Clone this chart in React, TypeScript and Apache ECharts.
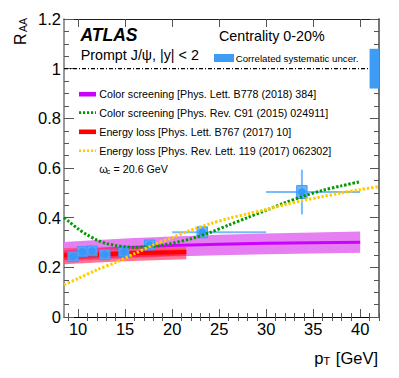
import React, { useEffect, useRef } from "react";
import * as echarts from "echarts";

const FONT = "'Liberation Sans', Arial, Helvetica, sans-serif";

const X_MIN = 8.5;
const X_MAX = 42;
const xMajorTicks = [10, 15, 20, 25, 30, 35, 40];
const xMinorTicks = [9, 11, 12, 13, 14, 16, 17, 18, 19, 21, 22, 23, 24, 26, 27, 28, 29, 31, 32, 33, 34, 36, 37, 38, 39, 41, 42];

// Data points (ATLAS, prompt J/psi, centrality 0-20%)
const dataX = [9.46, 10.45, 11.48, 12.85, 14.87, 17.6, 23.2, 33.8];
const dataY = [0.243, 0.263, 0.266, 0.251, 0.263, 0.29, 0.341, 0.503];
const binLow = [9.46, 10.45, 11.48, 12.85, 14.87, 17.6, 20, 30];
const binHigh = [9.46, 10.45, 11.48, 12.85, 14.87, 17.6, 30, 40];
const statErr = [0.01, 0.01, 0.01, 0.01, 0.01, 0.012, 0.02, 0.09];
const sysErr = [0.02, 0.02, 0.02, 0.02, 0.02, 0.02, 0.022, 0.026];

// Correlated systematic uncertainty box at unity
const corrX = [41, 42];
const corrY = [0.92, 1.08];

// Color screening [PLB 778 (2018) 384] band
const magX = [8.5, 12, 16, 20, 25, 30, 35, 40];
const magC = [0.262, 0.272, 0.28, 0.288, 0.293, 0.297, 0.299, 0.301];
const magUp = [0.302, 0.31, 0.318, 0.324, 0.331, 0.336, 0.34, 0.344];
const magLo = [0.222, 0.23, 0.238, 0.244, 0.249, 0.253, 0.256, 0.259];

// Energy loss [PLB 767 (2017) 10] band
const redX = [8.5, 12, 15, 18, 21.5];
const redC = [0.248, 0.252, 0.256, 0.259, 0.262];
const redUp = [0.278, 0.28, 0.281, 0.282, 0.283];
const redLo = [0.212, 0.219, 0.225, 0.229, 0.233];

// Color screening [PRC 91 (2015) 024911]
const greenX = [8.5, 9, 10, 11, 12, 13, 14, 15, 16, 17, 18, 19, 20, 22, 24, 26, 28, 30, 32, 34, 36, 38, 40];
const greenY = [0.4, 0.385, 0.355, 0.33, 0.31, 0.296, 0.288, 0.283, 0.281, 0.282, 0.285, 0.29, 0.297, 0.315, 0.34, 0.37, 0.4, 0.43, 0.46, 0.487, 0.51, 0.528, 0.545];

// Energy loss [PRL 119 (2017) 062302]
const yellowX = [8.5, 10, 12, 14, 16, 18, 20, 22, 24, 26, 28, 30, 32, 34, 36, 38, 40, 42];
const yellowY = [0.13, 0.155, 0.19, 0.22, 0.255, 0.29, 0.32, 0.35, 0.375, 0.397, 0.415, 0.433, 0.452, 0.47, 0.485, 0.5, 0.513, 0.525];

const unityX = [X_MIN, X_MAX];
const unityY = [1, 1];

const legendItems = [
  { kind: "box", color: "#cc00ff", label: "Color screening [Phys. Lett. B778 (2018) 384]" },
  { kind: "dot", color: "#009900", label: "Color screening [Phys. Rev. C91 (2015) 024911]" },
  { kind: "box", color: "#ff0000", label: "Energy loss [Phys. Lett. B767 (2017) 10]" },
  { kind: "dot", color: "#ffcc00", label: "Energy loss [Phys. Rev. Lett. 119 (2017) 062302]" },
];

const MAGENTA_BAND = "#e680f2";
const MAGENTA_LINE = "#cc00ff";
const BLUE = "#3399ff";
const BLUE_LIGHT = "#77bbff";
const TICK = "#555";

function bandSeries(xs: number[], up: number[], lo: number[], center: number[], fill: string, stroke: string, lw: number, inner?: { up: number[]; lo: number[]; fill: string }) {
  return {
    type: "custom",
    xAxisIndex: 0,
    yAxisIndex: 0,
    data: [[xs[0], center[0]]],
    renderItem: (_p: any, api: any) => {
      const top = xs.map((x, i) => api.coord([x, up[i]]));
      const bot = xs.map((x, i) => api.coord([x, lo[i]])).reverse();
      const mid = xs.map((x, i) => api.coord([x, center[i]]));
      const children: any[] = [
        { type: "polygon", shape: { points: top.concat(bot) }, style: { fill } },
      ];
      if (inner) {
        const t2 = xs.map((x, i) => api.coord([x, inner.up[i]]));
        const b2 = xs.map((x, i) => api.coord([x, inner.lo[i]])).reverse();
        children.push({ type: "polygon", shape: { points: t2.concat(b2) }, style: { fill: inner.fill } });
      }
      children.push({ type: "polyline", shape: { points: mid }, style: { stroke, lineWidth: lw, fill: "none" } });
      return { type: "group", children };
    },
  };
}

function buildOption() {
  const xBase = { type: "value", min: X_MIN, max: X_MAX, splitLine: { show: false } };
  const tickStyle = { color: TICK, width: 1 };
  const option: any = {
    animation: false,
    backgroundColor: "#fff",
    grid: { left: 64, top: 19, width: 315, height: 298 },
    xAxis: [
      {
        ...xBase,
        position: "bottom",
        axisLine: { show: true, onZero: false, lineStyle: { color: "#000", width: 1 } },
        axisTick: { show: true, inside: true, length: 8, customValues: xMajorTicks, lineStyle: tickStyle },
        axisLabel: { show: true, customValues: xMajorTicks, fontSize: 16.5, margin: 3, color: "#000", fontFamily: FONT },
      },
      {
        ...xBase,
        position: "bottom",
        axisLine: { show: false },
        axisTick: { show: true, inside: true, length: 4, customValues: xMinorTicks, lineStyle: tickStyle },
        axisLabel: { show: false },
      },
      {
        ...xBase,
        position: "top",
        axisLine: { show: true, onZero: false, lineStyle: { color: "#222", width: 1 } },
        axisTick: { show: true, inside: true, length: 8, customValues: xMajorTicks, lineStyle: tickStyle },
        axisLabel: { show: false },
      },
      {
        ...xBase,
        position: "top",
        axisLine: { show: false },
        axisTick: { show: true, inside: true, length: 4, customValues: xMinorTicks, lineStyle: tickStyle },
        axisLabel: { show: false },
      },
    ],
    yAxis: [
      {
        type: "value",
        min: 0,
        max: 1.2,
        interval: 0.2,
        position: "left",
        splitLine: { show: false },
        axisLine: { show: true, onZero: false, lineStyle: { color: "#777", width: 1.5 } },
        axisTick: { show: true, inside: true, length: 10, lineStyle: tickStyle },
        minorTick: { show: true, splitNumber: 4, length: 5, lineStyle: tickStyle },
        axisLabel: {
          fontSize: 16.5,
          margin: 3,
          color: "#000",
          fontFamily: FONT,
          formatter: (v: number) => String(+v.toFixed(1)),
        },
      },
      {
        type: "value",
        min: 0,
        max: 1.2,
        interval: 0.2,
        position: "right",
        splitLine: { show: false },
        axisLine: { show: true, onZero: false, lineStyle: { color: "#777", width: 2 } },
        axisTick: { show: true, inside: true, length: 9, lineStyle: tickStyle },
        minorTick: { show: true, splitNumber: 4, length: 5, lineStyle: tickStyle },
        axisLabel: { show: false },
      },
    ],
    series: [
      bandSeries(magX, magUp, magLo, magC, MAGENTA_BAND, MAGENTA_LINE, 3),
      bandSeries(redX, redUp, redLo, redC, "rgba(255,70,110,0.75)", "#ff0000", 4, {
        up: redUp.map((u, i) => redC[i] + (u - redC[i]) * 0.45),
        lo: redLo.map((l, i) => redC[i] - (redC[i] - l) * 0.5),
        fill: "rgba(255,30,60,0.8)",
      }),
      {
        type: "line",
        xAxisIndex: 0,
        yAxisIndex: 0,
        data: unityX.map((x, i) => [x, unityY[i]]),
        symbol: "none",
        lineStyle: { color: "#000", width: 1.2, type: [4, 2, 1, 2] },
        z: 3,
      },
      {
        type: "custom",
        xAxisIndex: 0,
        yAxisIndex: 0,
        z: 4,
        data: dataX.map((x, i) => [x, dataY[i]]),
        renderItem: (p: any, api: any) => {
          const i = p.dataIndex;
          const x = api.value(0);
          const y = api.value(1);
          const c = api.coord([x, y]);
          const hL = api.coord([binLow[i], y]);
          const hR = api.coord([binHigh[i], y]);
          const vT = api.coord([x, y + statErr[i]]);
          const vB = api.coord([x, y - statErr[i]]);
          const bTL = api.coord([x - 0.55, y + sysErr[i]]);
          const bBR = api.coord([x + 0.55, y - sysErr[i]]);
          return {
            type: "group",
            children: [
              { type: "line", shape: { x1: hL[0], y1: hL[1], x2: hR[0], y2: hR[1] }, style: { stroke: BLUE_LIGHT, lineWidth: 2 } },
              { type: "line", shape: { x1: vT[0], y1: vT[1], x2: vB[0], y2: vB[1] }, style: { stroke: BLUE_LIGHT, lineWidth: 2 } },
              {
                type: "rect",
                shape: { x: bTL[0], y: bTL[1], width: bBR[0] - bTL[0], height: bBR[1] - bTL[1] },
                style: { fill: "rgba(85,170,255,0.85)", stroke: BLUE, lineWidth: 1 },
              },
              { type: "circle", shape: { cx: c[0], cy: c[1], r: 3.8 }, style: { fill: BLUE } },
            ],
          };
        },
      },
      {
        type: "line",
        xAxisIndex: 0,
        yAxisIndex: 0,
        data: greenX.map((x, i) => [x, greenY[i]]),
        smooth: 0.3,
        symbol: "none",
        lineStyle: { color: "#009900", width: 3, type: [2.4, 1.8] },
        z: 5,
      },
      {
        type: "line",
        xAxisIndex: 0,
        yAxisIndex: 0,
        data: yellowX.map((x, i) => [x, yellowY[i]]),
        smooth: 0.3,
        symbol: "none",
        lineStyle: { color: "#ffcc00", width: 3, type: [2.4, 1.8] },
        z: 5,
      },
      {
        type: "custom",
        xAxisIndex: 0,
        yAxisIndex: 0,
        z: 6,
        data: [[corrX[0], corrY[0]]],
        renderItem: (_p: any, api: any) => {
          const a = api.coord([corrX[0], corrY[1]]);
          const b = api.coord([corrX[1], corrY[0]]);
          return {
            type: "rect",
            shape: { x: a[0], y: a[1], width: b[0] - a[0], height: b[1] - a[1] },
            style: { fill: "#3d9df5" },
          };
        },
      },
    ],
  };

  const g: any[] = [];
  const txt = (x: number, y: number, text: string, size: number, extra: any = {}) => ({
    type: "text",
    x,
    y,
    z: 100,
    style: { text, fontSize: size, fontFamily: FONT, fill: "#000", align: "left", verticalAlign: "middle", ...extra },
  });

  g.push(txt(80.5, 35.3, "ATLAS", 17.5, { fontWeight: "bold", fontStyle: "italic" }));
  g.push(txt(219, 35.8, "Centrality 0-20%", 14.3));
  g.push(txt(80.7, 54.7, "Prompt J/ψ, |y| < 2", 14.3));
  g.push({ type: "rect", z: 100, shape: { x: 214, y: 54, width: 20, height: 8 }, style: { fill: "#3d9df5" } });
  g.push(txt(235.7, 58.7, "Correlated systematic uncer.", 9.7));

  const rowY = [94.2, 112.6, 131.8, 150.8];
  legendItems.forEach((it, i) => {
    const y = rowY[i];
    if (it.kind === "box") {
      g.push({ type: "rect", z: 100, shape: { x: 79, y: y - 2.3, width: 17, height: 4.6 }, style: { fill: it.color } });
    } else {
      g.push({
        type: "line",
        z: 100,
        shape: { x1: 79, y1: y, x2: 96, y2: y },
        style: { stroke: it.color, lineWidth: 2.6, lineDash: [2.2, 1.8] },
      });
    }
    g.push(txt(99.3, y, it.label, 10.7));
  });
  g.push(txt(99.3, 169, "ω", 10.7));
  g.push(txt(106.6, 171.5, "c", 7.5));
  g.push(txt(110.6, 169, " = 20.6 GeV", 10.7));

  // x-axis title p_T [GeV]
  g.push(txt(378, 357.5, " [GeV]", 16.5, { align: "right" }));
  g.push(txt(330.2, 361, "T", 11.5, { align: "right" }));
  g.push(txt(323.5, 357.5, "p", 16.5, { align: "right" }));

  // y-axis title R_AA (rotated, reads bottom to top)
  g.push({
    type: "group",
    x: 20,
    y: 18,
    rotation: Math.PI / 2,
    z: 100,
    children: [
      { type: "text", x: 0, y: 3, style: { text: "AA", fontSize: 10.5, fontFamily: FONT, fill: "#000", align: "right", verticalAlign: "middle" } },
      { type: "text", x: -15.5, y: 0, style: { text: "R", fontSize: 16, fontFamily: FONT, fill: "#000", align: "right", verticalAlign: "middle" } },
    ],
  });

  option.graphic = g;
  return option;
}

export default function App() {
  const ref = useRef<HTMLDivElement>(null);
  useEffect(() => {
    document.body.style.margin = "0";
    const chart = echarts.init(ref.current!, null, { renderer: "svg" });
    chart.setOption(buildOption());
    return () => chart.dispose();
  }, []);
  return <div ref={ref} style={{ position: "absolute", left: 0, top: 0, width: 399, height: 378 }} />;
}
